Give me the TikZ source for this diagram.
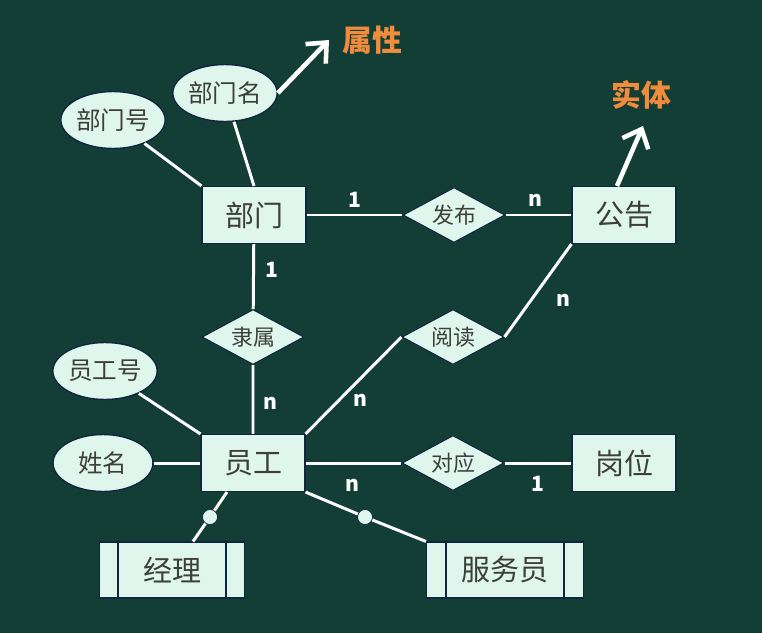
\documentclass[tikz,border=0pt]{standalone}
\usepackage{fontspec}
\newfontfamily\cjk{Noto Sans CJK SC}
\definecolor{bgteal}{RGB}{19,62,54}
\definecolor{boxfill}{RGB}{222,246,236}
\definecolor{boxedge}{RGB}{14,38,62}
\definecolor{txtgray}{RGB}{62,62,62}
\definecolor{noteorange}{RGB}{240,140,60}
\usetikzlibrary{arrows.meta, shapes.geometric, calc}

\begin{document}
\begin{tikzpicture}[
  x=0.02cm, y=-0.02cm,
  ent/.style={rectangle, draw=boxedge, line width=0.6pt, fill=boxfill, minimum width=2.08cm, minimum height=1.14cm, font=\cjk\fontsize{16.5}{16.5}\selectfont, text=txtgray},
  subent/.style={ent, minimum height=1.12cm},
  attr/.style={ellipse, draw=boxedge, line width=0.8pt, fill=boxfill, minimum width=2cm, minimum height=1.14cm, inner sep=0pt, font=\cjk\fontsize{14}{14}\selectfont, text=txtgray},
  rel/.style={diamond, aspect=2, draw=boxedge, line width=0.6pt, fill=boxfill, minimum width=2.04cm, minimum height=1.1cm, inner sep=0pt, font=\cjk\fontsize{12.5}{12.5}\selectfont, text=txtgray},
  lnk/.style={white, line width=1.7pt},
  bigarr/.style={-{Straight Barb[length=9pt, width=16pt]}, white, line width=2.6pt},
  dot/.style={circle, fill=boxfill, draw=boxedge, line width=0.4pt, minimum size=0.3cm, inner sep=0pt},
  card/.style={font=\cjk\bfseries\fontsize{12}{12}\selectfont, text=white},
  note/.style={font=\cjk\bfseries\fontsize{17}{17}\selectfont, text=noteorange}
]
  \fill[bgteal] (0,0) rectangle (762,633);

  % entities
  \node[ent] (bm) at (254,215) {部门};
  \node[ent] (gg) at (624,215) {公告};
  \node[ent] (yg) at (253,463) {员工};
  \node[ent] (gw) at (624,463) {岗位};
  \node[subent, minimum width=2.9cm] (jl) at (172,570) {经理};
  \node[subent, minimum width=3.14cm] (fwy) at (505,570) {服务员};
  \draw[boxedge, line width=0.6pt] ([xshift=0.38cm]jl.north west) -- ([xshift=0.38cm]jl.south west);
  \draw[boxedge, line width=0.6pt] ([xshift=-0.38cm]jl.north east) -- ([xshift=-0.38cm]jl.south east);
  \draw[boxedge, line width=0.6pt] ([xshift=0.4cm]fwy.north west) -- ([xshift=0.4cm]fwy.south west);
  \draw[boxedge, line width=0.6pt] ([xshift=-0.4cm]fwy.north east) -- ([xshift=-0.4cm]fwy.south east);

  % attributes
  \node[attr] (bmh) at (113,120) {部门号};
  \node[attr] (bmm) at (225,93) {部门名};
  \node[attr] (ygh) at (105,371) {员工号};
  \node[attr] (xm) at (103,463) {姓名};

  % relationships
  \node[rel] (fb) at (454,215) {发布};
  \node[rel] (ls) at (253,337) {隶属};
  \node[rel] (yd) at (453,337) {阅读};
  \node[rel] (dy) at (453,463) {对应};

  % links
  \draw[lnk] (bmh) -- (bm.north west);
  \draw[lnk] (bmm) -- (bm.north);
  \draw[lnk] (ygh) -- (yg.north west);
  \draw[lnk] (xm) -- (yg.west);
  \draw[lnk] (bm) -- (fb) -- (gg);
  \draw[lnk] (bm) -- (ls) -- (yg);
  \draw[lnk] (yg.north east) -- (yd.west);
  \draw[lnk] (yd.east) -- (gg.south west);
  \draw[lnk] (yg) -- (dy) -- (gw);
  \node[dot] (d1) at (210,517) {};
  \node[dot] (d2) at (365,517) {};
  \draw[lnk] ([xshift=-0.52cm]yg.south) -- (d1) -- ([xshift=0.42cm]jl.north);
  \draw[lnk] (yg.south east) -- (d2) -- (fwy.north west);

  % cardinalities
  \node[card] (c1) at (355,200) {1};
  \node[card] (c2) at (535,200) {n};
  \node[card] (c3) at (272,270) {1};
  \node[card] (c4) at (270,403) {n};
  \node[card] (c5) at (360,400) {n};
  \node[card] (c6) at (563,300) {n};
  \node[card] (c7) at (352,485) {n};
  \node[card] (c8) at (538,484) {1};

  % notes
  \node[note] (sx) at (372,40) {属性};
  \node[note] (st) at (641,95) {实体};
  \coordinate (sxtip) at (329,40);
  \coordinate (sttip) at (643,126);
  \draw[bigarr] (bmm.east) -- (sxtip);
  \draw[bigarr] ([xshift=-0.14cm]gg.north) -- (sttip);
\end{tikzpicture}
\end{document}
